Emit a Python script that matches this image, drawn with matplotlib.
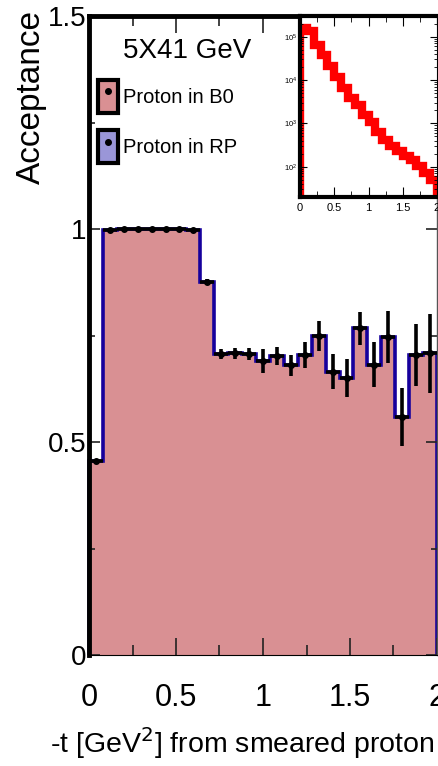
import numpy as np
import matplotlib
matplotlib.use('Agg')
from matplotlib import pyplot as plt
from matplotlib.patches import Patch
from matplotlib.lines import Line2D
from matplotlib.legend_handler import HandlerTuple
from matplotlib.ticker import (MultipleLocator, LogLocator, NullFormatter,
                               FixedLocator, FuncFormatter)

plt.rcParams['font.family'] = 'Liberation Sans'

# acceptance vs -t, bins of 0.08 GeV^2 from 0 to 2
binEdges = np.linspace(0.0, 2.0, 26)
acceptance = [0.455, 0.997, 1.000, 1.000, 1.001, 1.000, 0.999, 0.998, 0.876,
              0.707, 0.708, 0.706, 0.690, 0.702, 0.680, 0.704, 0.748, 0.665,
              0.650, 0.767, 0.681, 0.747, 0.559, 0.704, 0.708]
acceptanceErr = [0.004, 0.004, 0.004, 0.004, 0.004, 0.004, 0.004, 0.004, 0.006,
                 0.012, 0.012, 0.014, 0.029, 0.021, 0.025, 0.031, 0.035, 0.041,
                 0.045, 0.039, 0.053, 0.061, 0.068, 0.072, 0.092]

# generated -t spectrum for the inset, bins of 0.1 GeV^2
insetEdges = np.linspace(0.0, 2.0, 21)
insetCounts = [158000, 132000, 63000, 37000, 21000, 12000, 6600, 3800, 2600, 1600,
               1050, 630, 410, 300, 235, 180, 140, 105, 71, 50]

legendLabels = ['Proton in B0', 'Proton in RP']

b0Color = '#d99093'
rpColor = '#9a96d8'
lineBlue = '#16009c'

plainNum = FuncFormatter(lambda v, p: '%g' % v)

fig = plt.figure(figsize=(4.38, 7.66), dpi=100)
ax = fig.add_axes([89/438, 111/766, 348/438, 639/766])

centers = 0.5*(binEdges[:-1] + binEdges[1:])
ax.stairs(acceptance, binEdges, fill=True, facecolor=b0Color, edgecolor=lineBlue,
          linewidth=2.6, baseline=0, clip_on=False, zorder=1)
ax.errorbar(centers, acceptance, xerr=0.5*np.diff(binEdges), yerr=acceptanceErr,
            fmt='o', color='k', ms=4, elinewidth=2.6, capsize=0, zorder=3)

ax.set_xlim(0, 2)
ax.set_ylim(0, 1.5)
ax.xaxis.set_major_locator(MultipleLocator(0.5))
ax.xaxis.set_minor_locator(MultipleLocator(0.25))
ax.xaxis.set_major_formatter(plainNum)
ax.yaxis.set_major_locator(FixedLocator([0, 0.5, 1, 1.5]))
ax.yaxis.set_minor_locator(MultipleLocator(0.25))
ax.yaxis.set_major_formatter(plainNum)

ax.tick_params(which='both', direction='in', top=True, right=True, color='#222222')
ax.tick_params(axis='x', which='major', length=12, width=1.2, labelsize=22, pad=20)
ax.tick_params(axis='x', which='minor', length=7, width=1.2)
ax.tick_params(axis='y', which='major', length=8, width=1.2, labelsize=20, pad=2)
ax.tick_params(axis='y', which='minor', length=4, width=1.2)

for side in ['left', 'top']:
    ax.spines[side].set_linewidth(3.5)
ax.spines['right'].set_linewidth(1.0)
ax.spines['right'].set_color('#555555')

ax.set_xlabel('-t [GeV$^{2}$] from smeared proton', fontsize=20.5, ha='left', va='top')
ax.xaxis.set_label_coords(-0.112, -0.110)
ax.set_ylabel('Acceptance', fontsize=24, ha='right')
ax.yaxis.set_label_coords(-0.122, 1.009)

ax.text(0.0977, 0.934, '5X41 GeV', transform=ax.transAxes, fontsize=20,
        ha='left', va='baseline')

handles = []
for c in [b0Color, rpColor]:
    box = Patch(facecolor=c, edgecolor='k', linewidth=3, joinstyle='round')
    dot = Line2D([], [], marker='o', color='k', ls='none', ms=4)
    handles.append((box, dot))
ax.legend(handles, legendLabels, handler_map={tuple: HandlerTuple(ndivide=1)},
          loc='upper left', bbox_to_anchor=(0.026, 0.8998), borderaxespad=0,
          borderpad=0, frameon=False, fontsize=14.5, handlelength=1.0,
          handleheight=2.15, handletextpad=0.25, labelspacing=0.85)

# inset: -t distribution on log scale
ins = fig.add_axes([300/438, 569/766, 137/438, 181/766])
ins.stairs(insetCounts, insetEdges, color='red', linewidth=6, baseline=1)
ins.set_xlim(0, 2)
ins.set_yscale('log')
ins.set_ylim(20, 3.0e5)
ins.xaxis.set_major_locator(MultipleLocator(0.5))
ins.xaxis.set_minor_locator(MultipleLocator(0.25))
ins.xaxis.set_major_formatter(plainNum)
ins.yaxis.set_major_locator(LogLocator(base=10, numticks=10))
ins.yaxis.set_minor_locator(LogLocator(base=10, subs=np.arange(2, 10), numticks=10))
ins.yaxis.set_minor_formatter(NullFormatter())
ins.tick_params(which='both', direction='in', top=True, right=True)
ins.tick_params(axis='x', which='major', length=7, labelsize=8, pad=4)
ins.tick_params(axis='x', which='minor', length=4)
ins.tick_params(axis='y', which='major', length=5, labelsize=5.5, pad=2)
ins.tick_params(axis='y', which='minor', length=2.5)
for side in ['left', 'bottom', 'top']:
    ins.spines[side].set_linewidth(3)
ins.spines['right'].set_linewidth(0.8)

fig.savefig('out.png', dpi=100)
